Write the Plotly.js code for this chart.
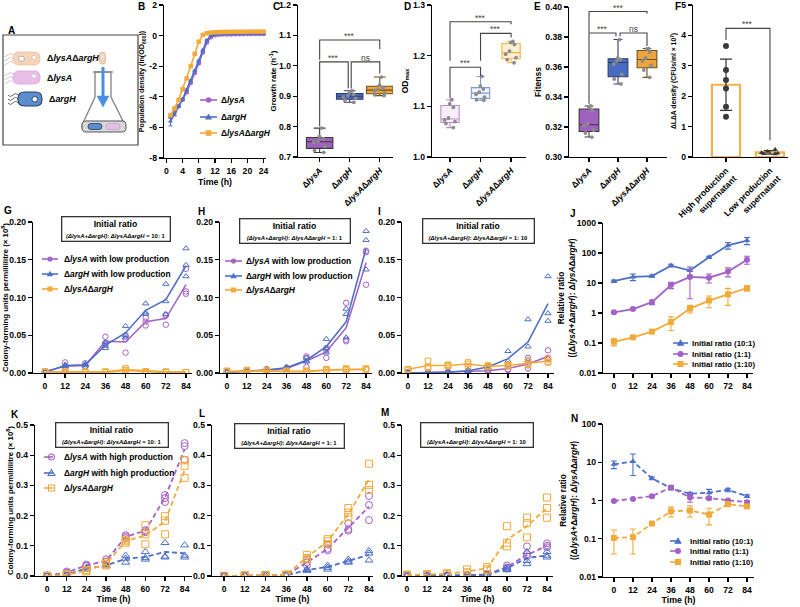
<!DOCTYPE html>
<html><head><meta charset="utf-8">
<script src="https://cdn.plot.ly/plotly-3.0.1.min.js"></script>
<style>html,body{margin:0;padding:0;background:#fff}#chart{width:800px;height:607px}</style>
</head><body><div id="chart"></div>
<script>
// ================= DATA =================
// Panel B: growth curves ln(OD600)
const B_time = [1,2,3,4,5,6,7,8,9,10,11,12,13,14,15,16,17,18,19,20,21,22,23,24];
const B_lysA = [-5.30,-4.95,-4.60,-4.20,-3.70,-3.10,-2.45,-1.80,-1.10,-0.45,-0.10,0.02,0.05,0.07,0.08,0.08,0.09,0.09,0.09,0.10,0.10,0.10,0.10,0.10];
const B_argH = [-5.60,-5.15,-4.65,-4.15,-3.55,-2.95,-2.30,-1.65,-0.95,-0.30,0.00,0.08,0.10,0.12,0.13,0.13,0.14,0.14,0.14,0.15,0.15,0.15,0.15,0.15];
const B_dLA  = [-5.20,-4.75,-4.20,-3.50,-2.80,-2.00,-1.20,-0.40,0.05,0.15,0.20,0.22,0.23,0.24,0.24,0.25,0.25,0.25,0.25,0.25,0.26,0.26,0.26,0.26];
const B_lysA_sd = [0.10,0.08,0.06,0.06,0.06,0.06,0.06,0.06,0.06,0.05,0.05,0.05,0.05,0.05,0.05,0.05,0.05,0.05,0.05,0.05,0.05,0.05,0.05,0.05];
const B_argH_sd = [0.30,0.10,0.06,0.06,0.06,0.06,0.06,0.06,0.06,0.05,0.05,0.05,0.05,0.05,0.05,0.05,0.05,0.05,0.05,0.05,0.05,0.05,0.05,0.05];
const B_dLA_sd  = [0.08,0.06,0.06,0.06,0.06,0.06,0.06,0.06,0.05,0.05,0.05,0.05,0.05,0.05,0.05,0.05,0.05,0.05,0.05,0.05,0.05,0.05,0.05,0.05];
const B_names = ['Δ<i>lysA</i>', 'Δ<i>argH</i>', 'Δ<i>lysA</i>Δ<i>argH</i>'];

// Panels C-E: strain categories and replicate values
const strainLabels = ['Δ<i>lysA</i>', 'Δ<i>argH</i>', 'Δ<i>lysA</i>Δ<i>argH</i>'];
const C_lysA = [0.715,0.722,0.735,0.748,0.752,0.760,0.768,0.795];
const C_argH = [0.880,0.887,0.893,0.898,0.902,0.906,0.912,0.918];
const C_dLA  = [0.902,0.905,0.911,0.918,0.922,0.929,0.936,0.963];
const D_lysA = [1.058,1.066,1.070,1.073,1.077,1.098,1.105,1.113];
const D_argH = [1.112,1.113,1.118,1.124,1.128,1.134,1.140,1.159];
const D_dLA  = [1.186,1.192,1.196,1.203,1.209,1.222,1.226,1.228];
const E_lysA = [0.3133,0.316,0.318,0.321,0.322,0.331,0.333,0.334];
const E_argH = [0.3487,0.352,0.355,0.362,0.364,0.365,0.366,0.3783];
const E_dLA  = [0.3531,0.358,0.361,0.364,0.366,0.370,0.372,0.3723];

// Panel F
const F_labels = ['High production<br>supernatant', 'Low production<br>supernatant'];
const F_high = [3.65,2.86,2.53,2.25,1.65,1.32];
const F_low  = [0.10,0.12,0.14,0.18,0.25,0.11];

// Panels G-I, K-M: time (h), means (lines) and replicates (points), CFU/ml x 10^8
const T = [0,12,24,36,48,60,72,84];
const G_lysA_mean = [0.002,0.009,0.010,0.042,0.041,0.068,0.072,0.117];
const G_lysA_rep  = [[0.002,0.001,0.002],[0.014,0.008,0.006],[0.013,0.009,0.008],[0.048,0.040,0.038],[0.027,0.045,0.050],[0.073,0.063,0.068],[0.064,0.077,0.076],[0.105,0.108,0.138]];
const G_argH_mean = [0.001,0.010,0.011,0.037,0.053,0.083,0.097,0.142];
const G_argH_rep  = [[0.001,0.001,0.002],[0.011,0.009,0.010],[0.012,0.010,0.011],[0.033,0.036,0.041],[0.062,0.050,0.047],[0.092,0.078,0.080],[0.118,0.078,0.095],[0.165,0.143,0.128]];
const G_dLA_mean  = [0.001,0.001,0.001,0.001,0.004,0.002,0.001,0.001];
const G_dLA_rep   = [[0.001,0.001,0.002],[0.001,0.002,0.001],[0.001,0.001,0.002],[0.001,0.002,0.001],[0.006,0.004,0.003],[0.002,0.001,0.002],[0.001,0.002,0.001],[0.001,0.001,0.001]];

const H_lysA_mean = [0.001,0.002,0.004,0.006,0.016,0.028,0.060,0.146];
const H_lysA_rep  = [[0.001,0.001,0.001],[0.002,0.002,0.003],[0.004,0.005,0.004],[0.006,0.007,0.005],[0.008,0.020,0.022],[0.020,0.030,0.033],[0.044,0.042,0.093],[0.162,0.160,0.117]];
const H_argH_mean = [0.001,0.002,0.004,0.007,0.017,0.035,0.068,0.165];
const H_argH_rep  = [[0.001,0.001,0.002],[0.002,0.003,0.002],[0.004,0.005,0.004],[0.007,0.008,0.006],[0.016,0.020,0.015],[0.045,0.033,0.027],[0.085,0.078,0.047],[0.188,0.176,0.137]];
const H_dLA_mean  = [0.002,0.003,0.003,0.002,0.002,0.004,0.005,0.005];
const H_dLA_rep   = [[0.003,0.002,0.002],[0.004,0.003,0.002],[0.003,0.004,0.002],[0.002,0.001,0.003],[0.002,0.003,0.001],[0.004,0.005,0.003],[0.006,0.005,0.004],[0.006,0.005,0.004]];

const I_lysA_mean = [0.000,0.0005,0.001,0.002,0.003,0.006,0.012,0.022];
const I_lysA_rep  = [[0,0,0.001],[0.001,0,0.0005],[0.001,0.001,0.001],[0.002,0.003,0.001],[0.003,0.004,0.002],[0.009,0.005,0.004],[0.020,0.010,0.006],[0.030,0.020,0.018]];
const I_argH_mean = [0.000,0.0005,0.001,0.003,0.008,0.019,0.041,0.092];
const I_argH_rep  = [[0,0,0.001],[0.001,0,0.0005],[0.001,0.001,0.002],[0.003,0.004,0.002],[0.010,0.008,0.006],[0.029,0.016,0.012],[0.071,0.035,0.017],[0.128,0.079,0.069]];
const I_dLA_mean  = [0.005,0.010,0.010,0.012,0.009,0.010,0.013,0.016];
const I_dLA_rep   = [[0.004,0.005,0.005],[0.016,0.008,0.007],[0.011,0.010,0.009],[0.014,0.012,0.009],[0.010,0.009,0.008],[0.011,0.010,0.009],[0.016,0.012,0.011],[0.019,0.015,0.014]];

const K_lysA_mean = [0.001,0.012,0.035,0.050,0.130,0.150,0.260,0.420];
const K_lysA_rep  = [[0.001,0.001,0.002],[0.015,0.010,0.011],[0.038,0.033,0.034],[0.055,0.048,0.047],[0.135,0.125,0.130],[0.152,0.148,0.145],[0.268,0.258,0.245],[0.440,0.430,0.385]];
const K_argH_mean = [0.000,0.005,0.025,0.035,0.057,0.063,0.080,0.075];
const K_argH_rep  = [[0,0.001,0],[0.006,0.004,0.005],[0.027,0.022,0.026],[0.037,0.033,0.035],[0.068,0.058,0.045],[0.080,0.060,0.055],[0.110,0.065,0.062],[0.102,0.068,0.062]];
const K_dLA_mean  = [0.000,0.004,0.018,0.040,0.115,0.135,0.180,0.350];
const K_dLA_rep   = [[0,0.001,0],[0.005,0.003,0.004],[0.020,0.015,0.019],[0.045,0.035,0.040],[0.120,0.115,0.110],[0.168,0.138,0.105],[0.198,0.183,0.138],[0.383,0.365,0.325]];

const L_lysA_mean = [0,0.001,0.002,0.003,0.045,0.090,0.160,0.230];
const L_lysA_rep  = [[0,0,0.001],[0.001,0.002,0.001],[0.002,0.003,0.002],[0.003,0.004,0.003],[0.055,0.035,0.045],[0.105,0.090,0.085],[0.175,0.155,0.150],[0.265,0.235,0.185]];
const L_argH_mean = [0,0.001,0.001,0.002,0.020,0.030,0.050,0.070];
const L_argH_rep  = [[0,0,0],[0.001,0.001,0.002],[0.001,0.002,0.001],[0.002,0.003,0.002],[0.022,0.020,0.018],[0.035,0.028,0.022],[0.055,0.048,0.045],[0.083,0.075,0.052]];
const L_dLA_mean  = [0,0.002,0.003,0.004,0.062,0.115,0.205,0.320];
const L_dLA_rep   = [[0.001,0,0],[0.003,0.002,0.002],[0.004,0.003,0.002],[0.005,0.004,0.003],[0.070,0.060,0.055],[0.122,0.115,0.105],[0.225,0.210,0.195],[0.372,0.302,0.285]];

const M_lysA_mean = [0,0,0.001,0.003,0.005,0.030,0.070,0.100];
const M_lysA_rep  = [[0,0,0.001],[0.001,0,0],[0.001,0.002,0.001],[0.003,0.004,0.002],[0.006,0.005,0.004],[0.035,0.028,0.025],[0.098,0.072,0.065],[0.108,0.100,0.095]];
const M_argH_mean = [0,0,0.001,0.002,0.004,0.025,0.060,0.068];
const M_argH_rep  = [[0,0,0],[0,0.001,0],[0.001,0.001,0.002],[0.002,0.003,0.002],[0.004,0.005,0.003],[0.028,0.022,0.020],[0.080,0.050,0.040],[0.080,0.068,0.062]];
const M_dLA_mean  = [0.003,0.005,0.007,0.015,0.025,0.120,0.165,0.225];
const M_dLA_rep   = [[0.005,0.003,0.002],[0.006,0.004,0.005],[0.009,0.006,0.006],[0.022,0.012,0.011],[0.030,0.022,0.018],[0.165,0.110,0.098],[0.193,0.175,0.128],[0.260,0.225,0.193]];

// Panels J and N: relative ratio (mean, sd)
const ratioNames = ['Initial ratio (10:1)', 'Initial ratio (1:1)', 'Initial ratio (1:10)'];
const J_10 = [11.5,16,17,38,26,72,180,260];   const J_10_sd = [1,4,1.5,4,8,6,45,70];
const J_1  = [1.05,1.35,2.3,8.5,16,15,24,60];  const J_1_sd  = [0.08,0.1,0.4,2,13,5,8,18];
const J_110= [0.11,0.155,0.24,0.5,1.4,2.6,4.2,6.8]; const J_110_sd = [0.03,0.01,0.02,0.24,0.4,1.1,2.4,1.5];
const N_10 = [8.8,10.5,3.8,2.1,1.5,1.6,1.9,1.3];  const N_10_sd = [2,6,0.3,0.2,0.15,0.35,0.2,0.1];
const N_1  = [0.97,1.1,1.3,2.2,1.2,1.15,1.0,0.9]; const N_1_sd  = [0.05,0.05,0.08,0.25,0.3,0.1,0.05,0.1];
const N_110= [0.105,0.11,0.25,0.52,0.55,0.43,0.8,0.7]; const N_110_sd = [0.065,0.07,0.02,0.15,0.18,0.2,0.08,0.08];
const logTicks = [0.01,0.1,1,10,100,1000];
const logTickText = ['0.01','0.1','1','10','100','1000'];

// ================= STYLE / LAYOUT =================
const W = 800, H = 607;
const fx = v => v / W;
const fy = v => 1 - v / H;
const FONT = "Arial, 'Liberation Sans', sans-serif";
const PURPLE = '#A562C6', BLUE = '#4D6FC6', ORANGE = '#F2AA3A';
const TICK = 8.6;

const layout = {
  width: W, height: H, margin: {l:0, r:0, t:0, b:0},
  paper_bgcolor: '#fff', plot_bgcolor: 'rgba(0,0,0,0)', showlegend: false,
  font: {family: FONT, color: '#000', size: TICK}, shapes: [], annotations: []
};
function baseAxis(o) {
  return Object.assign({
    showline: true, linecolor: '#000', linewidth: 1.3, ticks: 'outside', ticklen: 4,
    tickwidth: 1.3, tickcolor: '#000', showgrid: false, zeroline: false, fixedrange: true,
    tickfont: {family: FONT, size: TICK, color: '#000', weight: 'bold'}
  }, o);
}
function ttl(text, standoff, size) {
  return {text: text, standoff: standoff, font: {family: FONT, size: size, color: '#000', weight: 'bold'}};
}
function addPanel(i, left, right, top, bottom, xa, ya) {
  const xk = i === 1 ? 'xaxis' : 'xaxis' + i, yk = i === 1 ? 'yaxis' : 'yaxis' + i;
  const xid = i === 1 ? 'x' : 'x' + i, yid = i === 1 ? 'y' : 'y' + i;
  layout[xk] = baseAxis(Object.assign({domain: [left / W, right / W], anchor: yid}, xa));
  layout[yk] = baseAxis(Object.assign({domain: [1 - bottom / H, 1 - top / H], anchor: xid}, ya));
  return {x: xid, y: yid};
}
const cfuTitle = 'Colony-forming units permillilitre (× 10<sup>8</sup>)';
const ratioTitle = 'Relative ratio<br>((Δ<i>lysA</i>+Δ<i>argH</i>): Δ<i>lysA</i>Δ<i>argH</i>)';
const idx3 = strainLabels.map((_, i) => i);
const timeTitle = () => ttl('Time (h)', 2, 8.8);

const pB = addPanel(1, 164, 266, 5, 158, {range: [-0.6, 24.6], tickvals: [0,4,8,12,16,20,24], title: ttl('Time (h)', 4, 8.8)},
  {range: [-8, 2], tickvals: [-8,-6,-4,-2,0,2], ticktext: ['-8','-6','-4','-2','0','2'], title: ttl('Population density (ln(OD<sub>600</sub>))', 3, 7.2)});
const pC = addPanel(2, 298, 393, 5, 157, {range: [-0.72, 2.44], tickvals: idx3, ticktext: strainLabels, tickangle: -45},
  {range: [0.7, 1.2], dtick: 0.1, tickformat: '.1f', title: ttl('Growth rate (h<sup>-1</sup>)', 1, 7.8)});
const pD = addPanel(3, 432, 526, 5, 157, {range: [-0.59, 2.49], tickvals: idx3, ticktext: strainLabels, tickangle: -45},
  {range: [1.0, 1.3], dtick: 0.1, tickformat: '.1f', title: ttl('OD<sub>max</sub>', 3, 8.5)});
const pE = addPanel(4, 569, 667, 7, 157, {range: [-0.69, 2.69], tickvals: idx3, ticktext: strainLabels, tickangle: -45},
  {range: [0.30, 0.40], dtick: 0.02, tickformat: '.2f', title: ttl('Fitenss', 2, 8.5)});
const pF = addPanel(5, 693, 788, 5, 157, {range: [-0.75, 1.41], tickvals: [0, 1], ticktext: F_labels, tickangle: -45},
  {range: [0, 5], dtick: 1, title: ttl('ΔLΔA density (CFUs/ml × 10<sup>7</sup>)', 3, 6.8)});
const yLin02 = {range: [0, 0.2], dtick: 0.05, tickformat: '.2f'};
const pG = addPanel(6, 33, 192, 222, 373, {range: [-7.15, 87.6], tickvals: T}, Object.assign({title: ttl(cfuTitle, 1, 7.8)}, yLin02));
const pH = addPanel(7, 220, 372, 222, 373, {range: [-4.2, 87.6], tickvals: T}, Object.assign({}, yLin02));
const pI = addPanel(8, 402, 554, 222, 373, {range: [-3.6, 87.6], tickvals: T}, Object.assign({}, yLin02));
const pJ = addPanel(9, 603, 753, 223, 373, {range: [-6.9, 87.8], tickvals: T},
  {type: 'log', range: [-2, 3], tickvals: logTicks, ticktext: logTickText, title: ttl(ratioTitle, 0, 8.4)});
const yLin05 = {range: [0, 0.5], dtick: 0.1, tickformat: '.1f'};
const pK = addPanel(10, 35, 192, 425, 576, {range: [-7.4, 88.5], tickvals: T, title: timeTitle()}, Object.assign({title: ttl(cfuTitle, 1, 7.8)}, yLin05));
const pL = addPanel(11, 212, 373, 425, 576, {range: [-7, 86.3], tickvals: T, title: timeTitle()}, Object.assign({}, yLin05));
const pM = addPanel(12, 402, 553, 425, 576, {range: [-3, 87.6], tickvals: T, title: timeTitle()}, Object.assign({}, yLin05));
const pN = addPanel(13, 603, 754, 424, 577, {range: [-6.9, 88.4], tickvals: T, title: timeTitle()},
  {type: 'log', range: [-2, 2], tickvals: logTicks.slice(0, 5), ticktext: logTickText.slice(0, 5), title: ttl(ratioTitle, 0, 8.4)});

// ================= TRACES =================
const traces = [];
// B
[[B_lysA, B_lysA_sd, PURPLE, 'circle'], [B_argH, B_argH_sd, BLUE, 'triangle-up'], [B_dLA, B_dLA_sd, ORANGE, 'square']].forEach((s, k) => {
  traces.push({type: 'scatter', mode: 'lines+markers', name: B_names[k], x: B_time, y: s[0], xaxis: pB.x, yaxis: pB.y,
    line: {color: s[2], width: 1.6}, marker: {symbol: s[3], size: 4.5, color: s[2]},
    error_y: {type: 'data', array: s[1], color: s[2], thickness: 1, width: 2}});
});
// Box panels
function boxes(p, groups, fills, lines, width, jitter) {
  groups.forEach((g, i) => {
    traces.push({type: 'box', name: strainLabels[i], y: g, x0: i, xaxis: p.x, yaxis: p.y, width: width,
      fillcolor: fills[i], line: {color: lines[i], width: 1.1}, whiskerwidth: 0.45,
      boxpoints: 'all', jitter: jitter, pointpos: 0, marker: {color: '#8c8c8c', size: 3.8}, hoverinfo: 'y'});
  });
}
boxes(pC, [C_lysA, C_argH, C_dLA], ['#A061BE', '#4A6BC2', '#EDA53E'], ['#3a3a3a', '#2f3d66', '#6b5220'], 0.88, 0.6);
boxes(pD, [D_lysA, D_argH, D_dLA], ['#F8EEFA', '#EEF2FB', '#FDEFD4'], ['#C08AD6', '#7E9CDB', '#F2B441'], 0.6, 0.7);
boxes(pE, [E_lysA, E_argH, E_dLA], ['#A061BE', '#4A6BC2', '#EDA53E'], ['#3a3a3a', '#2f3d66', '#6b5220'], 0.68, 0.6);
// F
const mean = a => a.reduce((s, v) => s + v, 0) / a.length;
const sd = a => { const m = mean(a); return Math.sqrt(a.reduce((s, v) => s + (v - m) * (v - m), 0) / (a.length - 1)); };
traces.push({type: 'bar', x: [0, 1], y: [mean(F_high), mean(F_low)], width: 0.64, xaxis: pF.x, yaxis: pF.y,
  marker: {color: 'rgba(255,255,255,0)', line: {color: '#F2B24B', width: 2.2}},
  error_y: {type: 'data', array: [sd(F_high), sd(F_low)], color: '#333', thickness: 1.2, width: 6}});
traces.push({type: 'scatter', mode: 'markers', x: F_high.map(() => 0), y: F_high, xaxis: pF.x, yaxis: pF.y,
  marker: {color: '#3a3a3a', size: 6}});
traces.push({type: 'box', y: F_low, x0: 1, width: 0.5, xaxis: pF.x, yaxis: pF.y, boxpoints: 'all', jitter: 0.9, pointpos: 0,
  fillcolor: 'rgba(0,0,0,0)', line: {color: 'rgba(0,0,0,0)', width: 0}, marker: {color: '#3a3a3a', size: 5, symbol: 'triangle-up'}});

// Time-course panels
function ts(p, mean, reps, color, symbol, dash, msize, lw) {
  const xr = [], yr = [];
  reps.forEach((r, i) => r.forEach(v => { xr.push(T[i]); yr.push(v); }));
  traces.push({type: 'scatter', mode: 'lines', x: T, y: mean, xaxis: p.x, yaxis: p.y, line: {color: color, width: lw, dash: dash}, hoverinfo: 'skip'});
  traces.push({type: 'scatter', mode: 'markers', x: xr, y: yr, xaxis: p.x, yaxis: p.y,
    marker: {symbol: symbol + '-open', size: msize, color: color, line: {width: 1, color: color}}});
}
ts(pG, G_lysA_mean, G_lysA_rep, PURPLE, 'circle', 'solid', 5.5, 1.6);
ts(pG, G_argH_mean, G_argH_rep, BLUE, 'triangle-up', 'solid', 5.5, 1.6);
ts(pG, G_dLA_mean, G_dLA_rep, ORANGE, 'square', 'solid', 5.5, 2.4);
ts(pH, H_lysA_mean, H_lysA_rep, PURPLE, 'circle', 'solid', 5.5, 1.6);
ts(pH, H_argH_mean, H_argH_rep, BLUE, 'triangle-up', 'solid', 5.5, 1.6);
ts(pH, H_dLA_mean, H_dLA_rep, ORANGE, 'square', 'solid', 5.5, 1.8);
ts(pI, I_lysA_mean, I_lysA_rep, PURPLE, 'circle', 'solid', 5.5, 1.6);
ts(pI, I_argH_mean, I_argH_rep, BLUE, 'triangle-up', 'solid', 5.5, 1.6);
ts(pI, I_dLA_mean, I_dLA_rep, ORANGE, 'square', 'solid', 5.5, 1.6);
const DASH = '5px,3px';
ts(pK, K_lysA_mean, K_lysA_rep, PURPLE, 'circle', DASH, 7, 1.8);
ts(pK, K_argH_mean, K_argH_rep, BLUE, 'triangle-up', DASH, 7, 1.8);
ts(pK, K_dLA_mean, K_dLA_rep, ORANGE, 'square', DASH, 7, 1.8);
ts(pL, L_lysA_mean, L_lysA_rep, PURPLE, 'circle', DASH, 7, 1.8);
ts(pL, L_argH_mean, L_argH_rep, BLUE, 'triangle-up', DASH, 7, 1.8);
ts(pL, L_dLA_mean, L_dLA_rep, ORANGE, 'square', DASH, 7, 1.8);
ts(pM, M_lysA_mean, M_lysA_rep, PURPLE, 'circle', DASH, 7, 1.8);
ts(pM, M_argH_mean, M_argH_rep, BLUE, 'triangle-up', DASH, 7, 1.8);
ts(pM, M_dLA_mean, M_dLA_rep, ORANGE, 'square', DASH, 7, 1.8);

// Ratio panels
function ratio(p, series, dash) {
  series.forEach((s, k) => {
    traces.push({type: 'scatter', mode: 'lines+markers', name: ratioNames[k], x: T, y: s[0], xaxis: p.x, yaxis: p.y,
      line: {color: s[2], width: 1.8, dash: dash}, marker: {symbol: s[3], size: 6, color: s[2]},
      error_y: {type: 'data', array: s[1], color: s[2], thickness: 1.1, width: 3}});
  });
}
ratio(pJ, [[J_10, J_10_sd, BLUE, 'triangle-up'], [J_1, J_1_sd, PURPLE, 'circle'], [J_110, J_110_sd, ORANGE, 'square']], 'solid');
ratio(pN, [[N_10, N_10_sd, BLUE, 'triangle-up'], [N_1, N_1_sd, PURPLE, 'circle'], [N_110, N_110_sd, ORANGE, 'square']], DASH);

// ================= DECORATIONS =================
const S = layout.shapes, A = layout.annotations;
const P = str => str.replace(/(-?[\d.]+),(-?[\d.]+)/g, (m, a, b) => fx(+a).toFixed(5) + ',' + fy(+b).toFixed(5));
function text(x, y, t, size, opt) {
  A.push(Object.assign({xref: 'paper', yref: 'paper', x: fx(x), y: fy(y), xanchor: 'left', yanchor: 'middle', showarrow: false,
    text: t, font: {family: FONT, size: size, color: '#000', weight: 'bold'}}, opt || {}));
}
// panel letters
[['A',6,30],['B',136,6],['C',271,6],['D',402,6],['E',532,6],['F',673,6],['G',2,210],['H',196,211],['I',376,211],['J',568,214],['K',9,414],['L',197,413],['M',379,412],['N',569,418]]
  .forEach(l => text(l[1], l[2], l[0], 10));

// legends (drawn keys)
function key(x0, x1, y, color, symbol, dash, open, size) {
  S.push({type: 'line', xref: 'paper', yref: 'paper', x0: fx(x0), x1: fx(x1), y0: fy(y), y1: fy(y), line: {color: color, width: 1.6, dash: dash}});
  const cx = (x0 + x1) / 2, r = size / 2;
  let s;
  if (symbol === 'circle') s = {type: 'circle', x0: fx(cx - r), x1: fx(cx + r), y0: fy(y + r), y1: fy(y - r)};
  else if (symbol === 'square') s = {type: 'rect', x0: fx(cx - r), x1: fx(cx + r), y0: fy(y + r), y1: fy(y - r)};
  else s = {type: 'path', path: P(`M${cx},${y - r * 1.1} L${cx + r * 1.15},${y + r * 0.85} L${cx - r * 1.15},${y + r * 0.85} Z`)};
  S.push(Object.assign(s, {xref: 'paper', yref: 'paper', fillcolor: open ? 'rgba(255,255,255,0)' : color, line: {color: color, width: 1.1}}));
}
function legend(x0, x1, xt, ys, labels, styles, dash, open, msize, fsize) {
  labels.forEach((lab, k) => {
    key(x0, x1, ys[k], styles[k][0], styles[k][1], dash, open, msize);
    text(xt, ys[k], lab, fsize);
  });
}
const st3 = [[PURPLE, 'circle'], [BLUE, 'triangle'], [ORANGE, 'square']];
const stR = [[BLUE, 'triangle'], [PURPLE, 'circle'], [ORANGE, 'square']];
legend(200, 217, 219, [100, 117, 133], B_names, st3, 'solid', false, 4.5, 8.4);
const lowNames = ['Δ<i>lysA</i> with low production', 'Δ<i>argH</i> with low production', 'Δ<i>lysA</i>Δ<i>argH</i>'];
const highNames = ['Δ<i>lysA</i> with high production', 'Δ<i>argH</i> with high production', 'Δ<i>lysA</i>Δ<i>argH</i>'];
legend(42, 58, 62, [259, 274, 289], lowNames, st3, 'solid', false, 4, 8.4);
legend(225, 242, 244, [261, 276, 290], lowNames, st3, 'solid', false, 4, 8.4);
legend(44, 59, 62, [457, 473, 488], highNames, st3, 'dash', true, 6, 8.4);
legend(673, 688, 690, [343, 354, 364], ratioNames, stR, 'solid', false, 5, 7.9);
legend(670, 686, 688, [541, 551, 562], ratioNames, stR, 'dash', false, 5, 7.9);

// "Initial ratio" boxes
function ratioBox(cx, cy, w, r) {
  A.push({xref: 'paper', yref: 'paper', x: fx(cx), y: fy(cy), xanchor: 'center', yanchor: 'middle', showarrow: false,
    width: w, bordercolor: '#333', borderwidth: 1.3, borderpad: 1.5, bgcolor: '#fff', align: 'center',
    text: '<b>Initial ratio</b><br><span style="font-size:5.9px"><i>(ΔlysA+ΔargH)</i>: <i>ΔlysAΔargH</i> = ' + r + '</span>',
    font: {family: FONT, size: 8.6, color: '#000', weight: 'bold'}});
}
ratioBox(116, 229, 104, '10: 1'); ratioBox(295, 231, 106, '1: 1'); ratioBox(478, 231, 107, '1: 10');
ratioBox(112, 435, 108, '10: 1'); ratioBox(289, 436, 105, '1: 1'); ratioBox(477, 435, 108, '1: 10');

// significance brackets
function bracket(p, xa, xb, y, ya, yb, label) {
  S.push({type: 'path', xref: p.x, yref: p.y, path: `M${xa},${ya} L${xa},${y} L${xb},${y} L${xb},${yb}`, line: {color: '#444', width: 1.1}});
  A.push({xref: p.x, yref: p.y, x: (xa + xb) / 2, y: y, yanchor: 'bottom', yshift: -3, showarrow: false, text: label,
    font: {family: FONT, size: 8.5, color: '#444'}});
}
bracket(pC, 0, 0.95, 1.013, 0.80, 0.925, '***'); bracket(pC, 1.05, 2, 1.013, 0.925, 0.975, 'ns'); bracket(pC, 0, 2, 1.085, 1.02, 1.055, '***');
bracket(pD, 0, 1, 1.177, 1.116, 1.16, '***'); bracket(pD, 1, 2, 1.244, 1.19, 1.236, '***'); bracket(pD, 0, 2, 1.267, 1.19, 1.262, '***');
bracket(pE, 0, 0.93, 0.3827, 0.3355, 0.3805, '***'); bracket(pE, 1.07, 2, 0.3827, 0.3805, 0.374, 'ns'); bracket(pE, 0, 2, 0.397, 0.383, 0.3955, '***');
bracket(pF, 0, 1, 4.23, 3.85, 0.55, '***');

// Panel A schematic
function shp(path, fill, line, lw) { S.push({type: 'path', xref: 'paper', yref: 'paper', path: P(path), fillcolor: fill, line: {color: line, width: lw}}); }
function rrect(x0, y0, x1, y1, r) {
  return `M${x0 + r},${y0} L${x1 - r},${y0} Q${x1},${y0} ${x1},${y0 + r} L${x1},${y1 - r} Q${x1},${y1} ${x1 - r},${y1} L${x0 + r},${y1} Q${x0},${y1} ${x0},${y1 - r} L${x0},${y0 + r} Q${x0},${y0} ${x0 + r},${y0} Z`;
}
function tails(x, ys, color) { ys.forEach(y => shp(`M${x},${y} Q${x - 2.5},${y - 3} ${x - 5},${y} Q${x - 7.5},${y + 3} ${x - 10},${y}`, 'rgba(0,0,0,0)', color, 0.8)); }
S.push({type: 'rect', xref: 'paper', yref: 'paper', x0: fx(3), x1: fx(138), y0: fy(145), y1: fy(35), line: {color: '#444', width: 1.2}, fillcolor: 'rgba(0,0,0,0)'});
tails(13, [55, 59, 63], '#c9b8ad');
shp(rrect(13, 52, 40, 65, 6), '#F7D3BA', '#E9BE9F', 0.8);
shp(rrect(19, 56.5, 24, 61, 0.5), '#fff', '#999', 0.6);
shp(rrect(32, 55.5, 36, 59.5, 2), '#fff', '#bbb', 0.6);
tails(13, [74, 78, 82], '#c9b3c9');
shp(rrect(13, 71, 40, 84, 6), '#E8BEE6', '#D9A6D5', 0.8);
shp(rrect(32, 74, 36, 78, 2), '#fff', '#ccc', 0.6);
tails(18, [95, 99, 103], '#444');
shp(rrect(18, 92, 42, 106, 6.5), '#5A8ECF', '#2B3D5C', 1.1);
shp(rrect(32, 96.5, 37.5, 102, 2.7), '#fff', '#2B3D5C', 0.9);
text(45, 58, 'Δ<i>lysA</i>Δ<i>argH</i>', 8.9);
text(45, 78, 'Δ<i>lysA</i>', 8.9);
text(47, 99, 'Δ<i>argH</i>', 8.9);
// flask
shp('M95,72 L95,97 L83,123 Q80,131 88,131 L120,131 Q128,131 124,123 L111,97 L111,72 Z', '#fff', '#8a8a8a', 1.4);
S.push({type: 'line', xref: 'paper', yref: 'paper', x0: fx(93), x1: fx(113), y0: fy(72), y1: fy(72), line: {color: '#8a8a8a', width: 1.4}});
shp(rrect(82, 121, 126, 132, 4), '#D8D8D8', '#555', 1);
shp(rrect(88, 123.5, 102, 129.5, 3), '#5A8ECF', '#2B3D5C', 0.8);
shp(rrect(106, 123.5, 120, 129.5, 3), '#E8BEE6', '#C9A0C6', 0.8);
// falling cell and arrow
shp(rrect(99.5, 52, 105.5, 64, 3), '#F7D3BA', '#E0B090', 0.8);
shp(rrect(101.3, 55, 103.7, 58, 1.2), '#fff', '#ccc', 0.5);
S.push({type: 'line', xref: 'paper', yref: 'paper', x0: fx(103), x1: fx(103), y0: fy(67), y1: fy(98), line: {color: '#4A90E2', width: 3}});
shp('M97,96 L109,96 L103,107 Z', '#4A90E2', '#4A90E2', 0.5);

Plotly.newPlot('chart', traces, layout, {staticPlot: true, displayModeBar: false});
</script>
</body></html>
